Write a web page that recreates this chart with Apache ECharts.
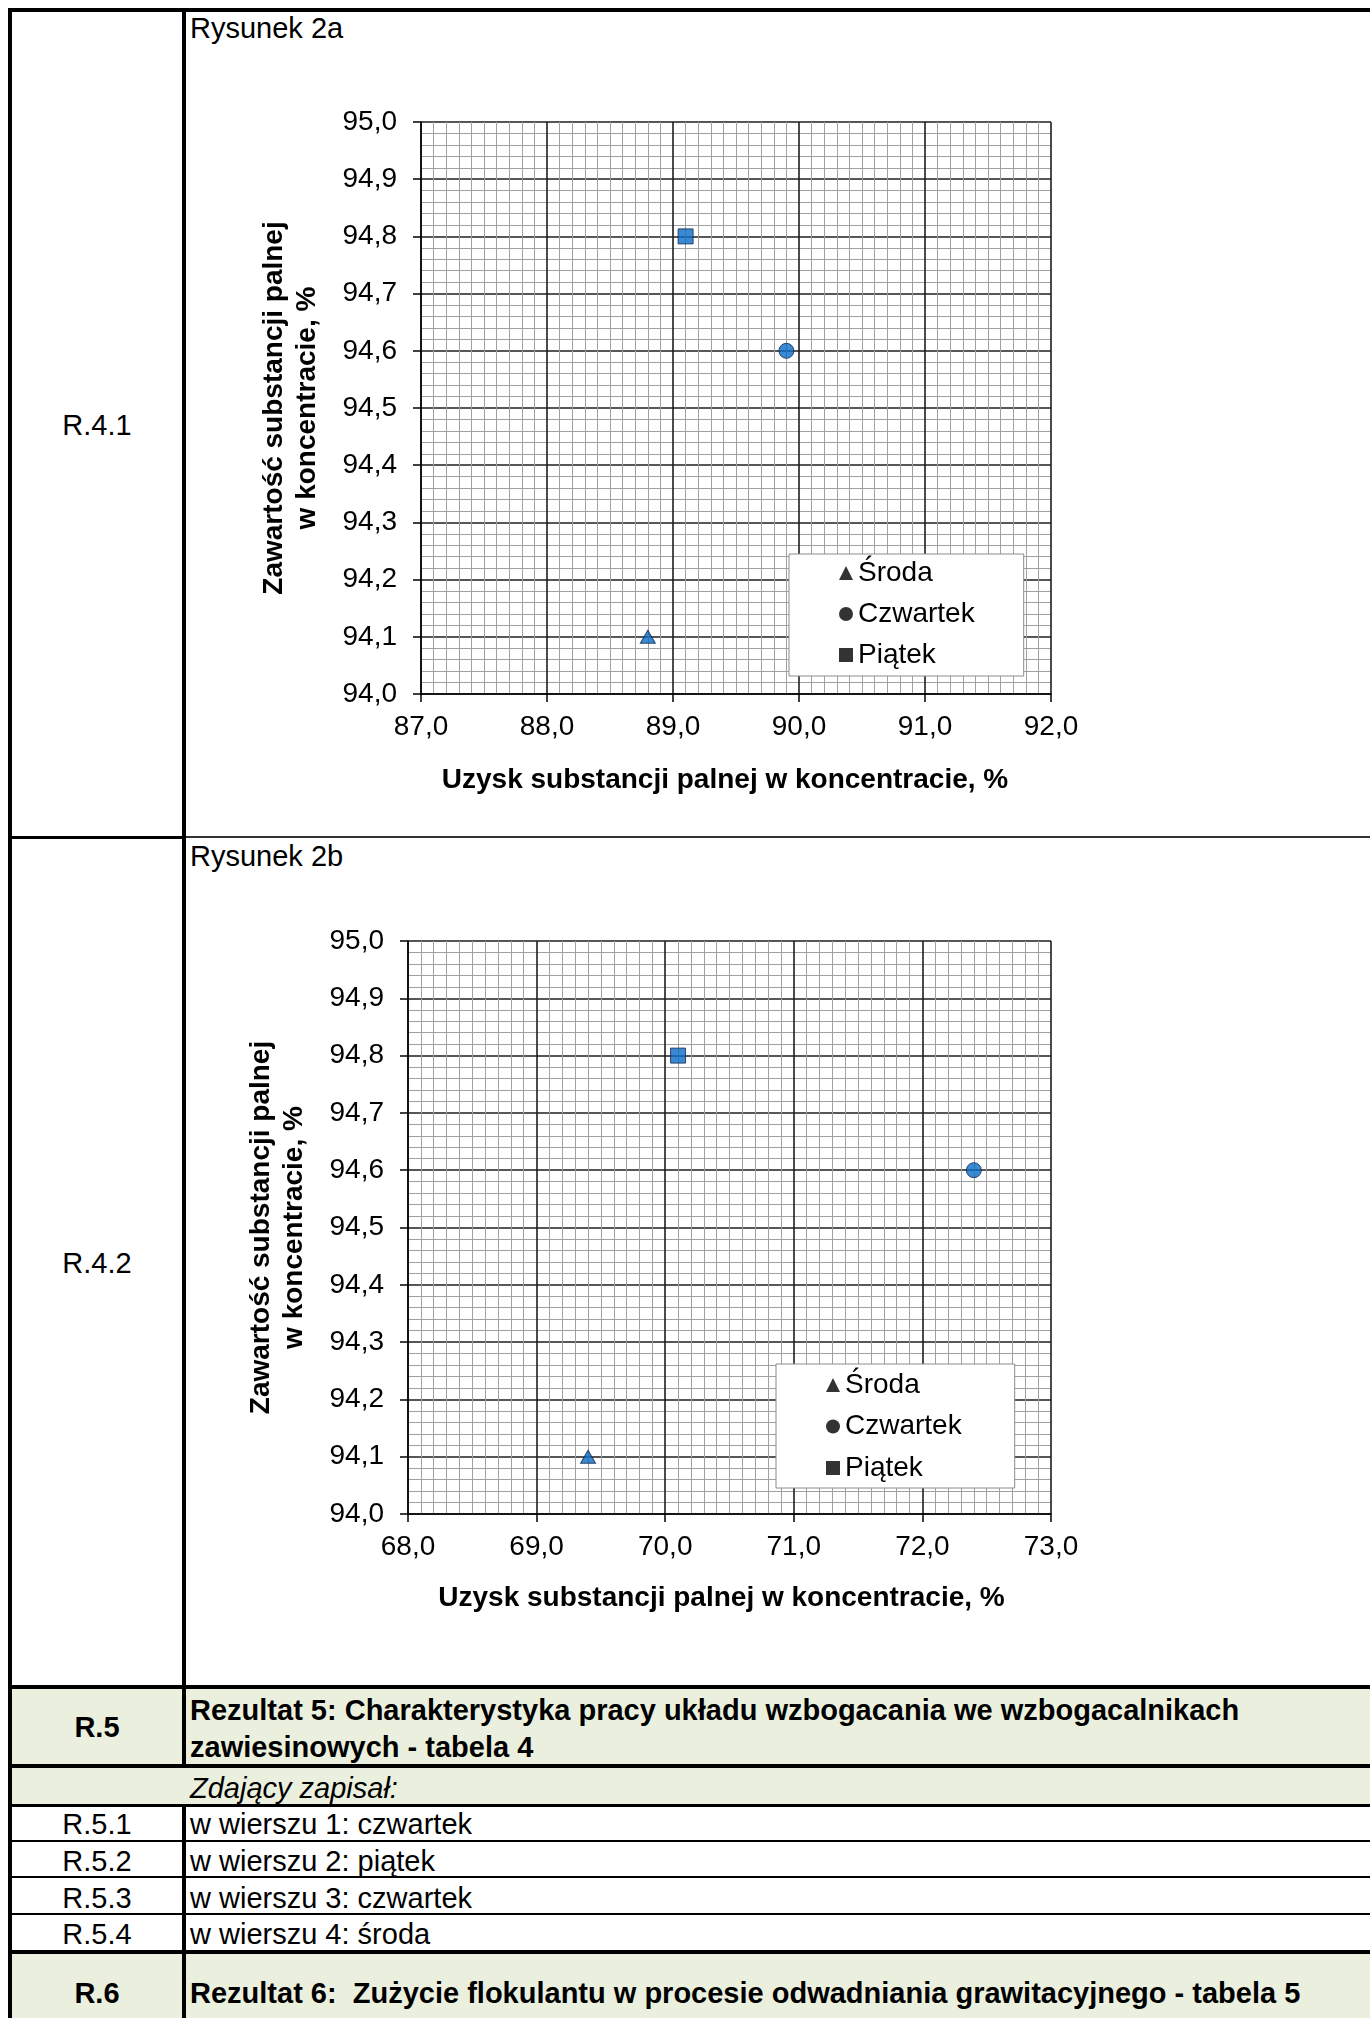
<!DOCTYPE html>
<html>
<head>
<meta charset="utf-8">
<script src="https://cdn.jsdelivr.net/npm/echarts@6/dist/echarts.min.js"></script>
<style>
html,body{margin:0;padding:0;background:#fff;}
#page{position:relative;width:1370px;height:2018px;overflow:hidden;background:#fff;font-family:'Liberation Sans',Arial,Helvetica,sans-serif;color:#000;}
.ln{position:absolute;background:#000;}
.bg{position:absolute;background:#EBF0DE;}
.t{position:absolute;font-size:29px;height:34px;line-height:34px;white-space:pre;}
.c{left:12px;width:170px;text-align:center;}
.l{left:190px;}
.b{font-weight:bold;}
.i{font-style:italic;}
#chart{position:absolute;left:0;top:0;width:1370px;height:2018px;}
</style>
</head>
<body>
<div id="page">
  <!-- shaded rows -->
  <div class="bg" style="left:12px;top:1689px;width:1358px;height:75px;"></div>
  <div class="bg" style="left:12px;top:1768px;width:1358px;height:36px;"></div>
  <div class="bg" style="left:12px;top:1954px;width:1358px;height:64px;"></div>

  <!-- table lines -->
  <div class="ln" style="left:8px;top:8px;width:1362px;height:4px;"></div>
  <div class="ln" style="left:8px;top:8px;width:4px;height:2010px;"></div>
  <div class="ln" style="left:182px;top:12px;width:4px;height:1752px;"></div>
  <div class="ln" style="left:182px;top:1804px;width:4px;height:214px;"></div>
  <div class="ln" style="left:12px;top:836px;width:170px;height:3px;"></div>
  <div class="ln" style="left:186px;top:836px;width:1184px;height:2px;background:#333;"></div>
  <div class="ln" style="left:8px;top:1685px;width:1362px;height:4px;"></div>
  <div class="ln" style="left:8px;top:1764px;width:1362px;height:4px;"></div>
  <div class="ln" style="left:8px;top:1804px;width:1362px;height:3px;"></div>
  <div class="ln" style="left:8px;top:1840px;width:1362px;height:2px;"></div>
  <div class="ln" style="left:8px;top:1876px;width:1362px;height:2px;"></div>
  <div class="ln" style="left:8px;top:1913px;width:1362px;height:2px;"></div>
  <div class="ln" style="left:8px;top:1950px;width:1362px;height:4px;"></div>

  <!-- table text -->
  <div class="t l" style="top:11px;">Rysunek 2a</div>
  <div class="t l" style="top:839px;">Rysunek 2b</div>
  <div class="t c" style="top:408px;">R.4.1</div>
  <div class="t c" style="top:1246px;">R.4.2</div>

  <div class="t c b" style="top:1710px;">R.5</div>
  <div class="t l b" style="top:1693px;">Rezultat 5: Charakterystyka pracy układu wzbogacania we wzbogacalnikach</div>
  <div class="t l b" style="top:1730px;">zawiesinowych - tabela 4</div>
  <div class="t l i" style="top:1771px;">Zdający zapisał:</div>

  <div class="t c" style="top:1807px;">R.5.1</div>
  <div class="t l" style="top:1807px;">w wierszu 1: czwartek</div>
  <div class="t c" style="top:1844px;">R.5.2</div>
  <div class="t l" style="top:1844px;">w wierszu 2: piątek</div>
  <div class="t c" style="top:1881px;">R.5.3</div>
  <div class="t l" style="top:1881px;">w wierszu 3: czwartek</div>
  <div class="t c" style="top:1917px;">R.5.4</div>
  <div class="t l" style="top:1917px;">w wierszu 4: środa</div>

  <div class="t c b" style="top:1976px;">R.6</div>
  <div class="t l b" style="top:1976px;">Rezultat 6:  Zużycie flokulantu w procesie odwadniania grawitacyjnego - tabela 5</div>

  <div id="chart"></div>
</div>
<script>
// ---- data ----
const seriesNames = ['Środa', 'Czwartek', 'Piątek'];
const uzysk2a = [88.8, 89.9, 89.1];
const zawartosc2a = [94.1, 94.6, 94.8];
const uzysk2b = [69.4, 72.4, 70.1];
const zawartosc2b = [94.1, 94.6, 94.8];
const xTicks2a = [87.0, 88.0, 89.0, 90.0, 91.0, 92.0];
const xTicks2b = [68.0, 69.0, 70.0, 71.0, 72.0, 73.0];
const yTicks = [94.0, 94.1, 94.2, 94.3, 94.4, 94.5, 94.6, 94.7, 94.8, 94.9, 95.0];
const xTitle = 'Uzysk substancji palnej w koncentracie, %';
const yTitle = 'Zawartość substancji palnej\nw koncentracie, %';

// ---- styling ----
const FONT = "'Liberation Sans', Arial, Helvetica, sans-serif";
const symbols = ['triangle', 'circle', 'rect'];
const symbolSizes = [[15, 13], 15, [15, 15]];
const markerStyle = { color: '#0A6CC8', borderColor: '#10294A', borderWidth: 1 };
const fmt = v => Number(v).toFixed(1).replace('.', ',');

function xAxisCfg(gridIndex, ticks, nameGap, padR) {
  return {
    type: 'value', gridIndex: gridIndex,
    min: ticks[0], max: ticks[ticks.length - 1], interval: ticks[1] - ticks[0],
    name: xTitle, nameLocation: 'middle', nameGap: nameGap,
    nameTextStyle: { fontFamily: FONT, fontSize: 28, fontWeight: 'bold', color: '#000', padding: [0, padR, 0, 0] },
    axisLine: { show: true, onZero: false, lineStyle: { color: '#000', width: 1.5 } },
    axisTick: { show: true, inside: false, length: 8, lineStyle: { color: '#000', width: 1.5 } },
    axisLabel: { show: true, margin: 19, fontFamily: FONT, fontSize: 28, color: '#000', formatter: fmt, hideOverlap: false },
    splitLine: { show: true, lineStyle: { color: '#1e1e1e', width: 1.6 } },
    minorTick: { show: false, splitNumber: 10 },
    minorSplitLine: { show: true, lineStyle: { color: '#a0a0a0', width: 1 } }
  };
}
function yAxisCfg(gridIndex, nameGap) {
  return {
    type: 'value', gridIndex: gridIndex,
    min: yTicks[0], max: yTicks[yTicks.length - 1], interval: 0.1,
    name: yTitle, nameLocation: 'middle', nameGap: nameGap,
    nameTextStyle: { fontFamily: FONT, fontSize: 28, fontWeight: 'bold', color: '#000', lineHeight: 33, align: 'center' },
    axisLine: { show: true, onZero: false, lineStyle: { color: '#000', width: 1.5 } },
    axisTick: { show: true, inside: false, length: 8, lineStyle: { color: '#000', width: 1.5 } },
    axisLabel: { show: true, margin: 24, fontFamily: FONT, fontSize: 28, color: '#000', formatter: fmt, hideOverlap: false },
    splitLine: { show: true, lineStyle: { color: '#1e1e1e', width: 1.6 } },
    minorTick: { show: false, splitNumber: 5 },
    minorSplitLine: { show: true, lineStyle: { color: '#a0a0a0', width: 1 } }
  };
}
function legendCfg(left, top, padding, itemGap) {
  return {
    orient: 'vertical', left: left, top: top, padding: padding, itemGap: itemGap,
    itemWidth: 14, itemHeight: 14, selectedMode: false,
    backgroundColor: '#fff', borderColor: '#8c8c8c', borderWidth: 1, borderRadius: 0,
    textStyle: { fontFamily: FONT, fontSize: 28, color: '#000', lineHeight: 28 },
    data: seriesNames.map((n, i) => ({ name: n, icon: symbols[i], itemStyle: { color: '#000', borderWidth: 0 } }))
  };
}

const series = [];
seriesNames.forEach((n, i) => {
  series.push({
    type: 'scatter', name: n, xAxisIndex: 0, yAxisIndex: 0,
    symbol: symbols[i], symbolSize: symbolSizes[i], itemStyle: markerStyle, z: 5,
    data: [[uzysk2a[i], zawartosc2a[i]]]
  });
  series.push({
    type: 'scatter', name: n, xAxisIndex: 1, yAxisIndex: 1,
    symbol: symbols[i], symbolSize: symbolSizes[i], itemStyle: markerStyle, z: 5,
    data: [[uzysk2b[i], zawartosc2b[i]]]
  });
});

const chart = echarts.init(document.getElementById('chart'), null, { renderer: 'canvas' });
chart.setOption({
  animation: false,
  backgroundColor: 'transparent',
  grid: [
    { left: 421, top: 122, width: 630, height: 572, containLabel: false, outerBoundsMode: 'none' },
    { left: 408, top: 941, width: 643, height: 573, containLabel: false, outerBoundsMode: 'none' }
  ],
  xAxis: [xAxisCfg(0, xTicks2a, 72, 22), xAxisCfg(1, xTicks2b, 70, 16)],
  yAxis: [yAxisCfg(0, 97), yAxisCfg(1, 97)],
  legend: [
    legendCfg(789, 554, [5, 49, 7, 50], 13),
    legendCfg(776, 1364, [7, 53, 6, 50], 13.5)
  ],
  series: series
});
</script>
</body>
</html>
